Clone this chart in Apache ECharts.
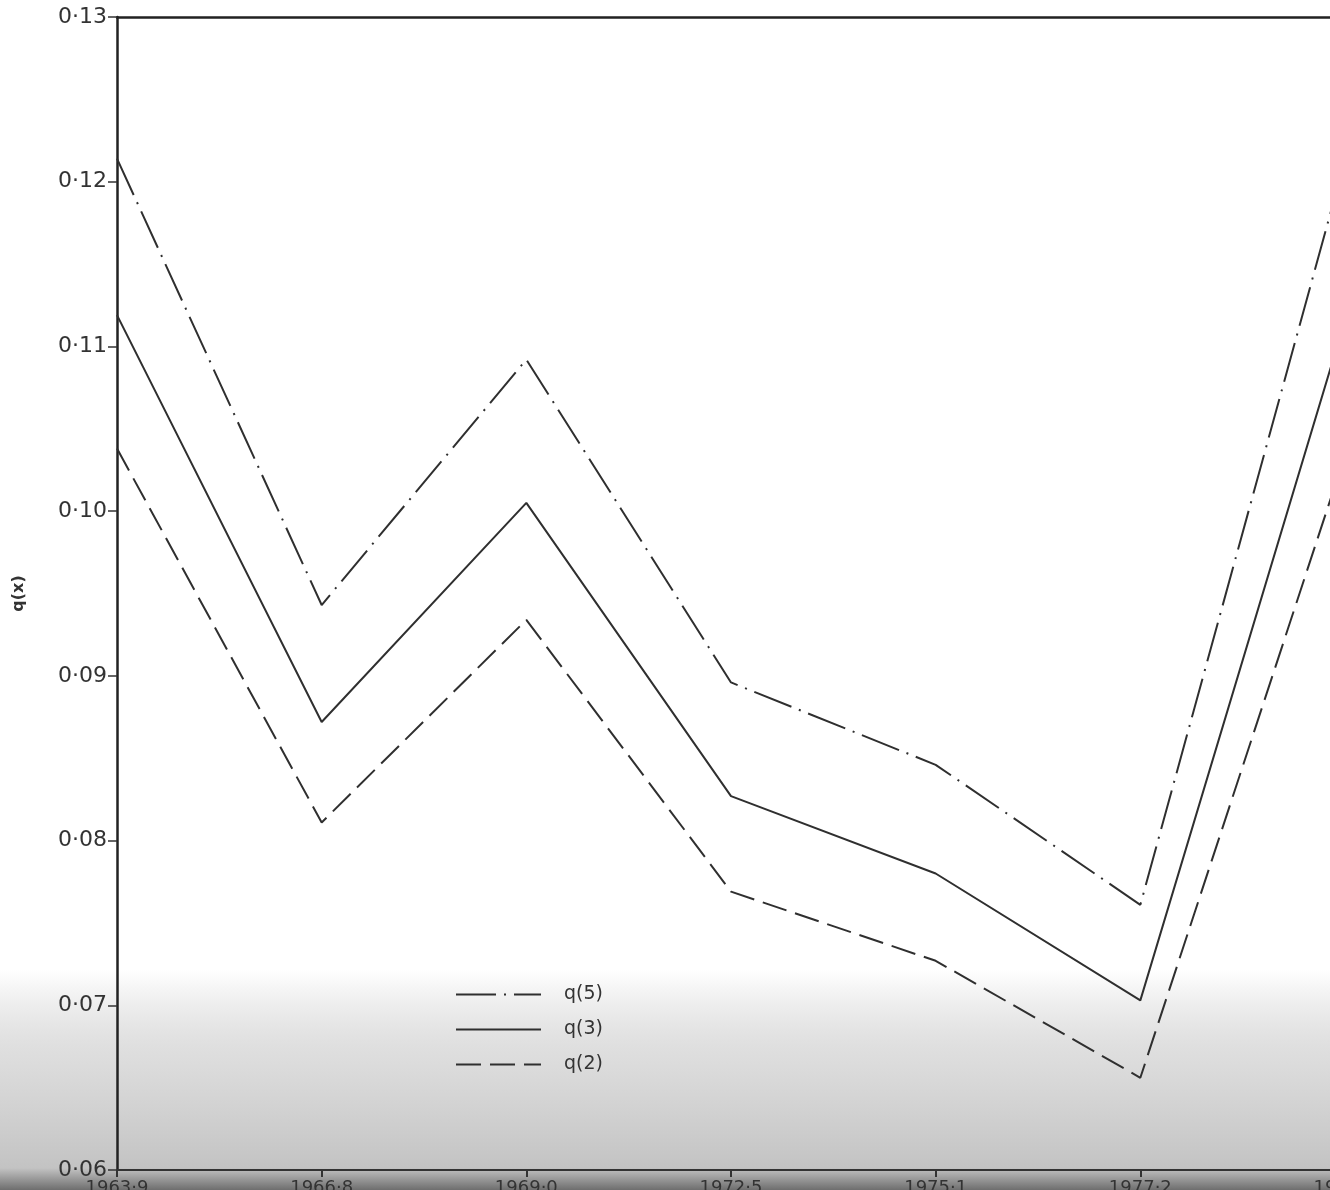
<!DOCTYPE html>
<html>
<head>
<meta charset="utf-8">
<title>q(x)</title>
<script src="https://cdn.jsdelivr.net/npm/echarts@6/dist/echarts.min.js"></script>
<style>
  html, body { margin: 0; padding: 0; background: #fff; }
  #main { width: 1330px; height: 1190px; }
</style>
</head>
<body>
<div id="main"></div>
<script>
// 横轴：调查年份
let years = ['1963·9', '1966·8', '1969·0', '1972·5', '1975·1', '1977·2', '1979·4'];
// 纵轴刻度
let yTicks = ['0·06', '0·07', '0·08', '0·09', '0·10', '0·11', '0·12', '0·13'];
// 三条曲线的数值
let q5 = [0.1214, 0.0943, 0.1092, 0.0896, 0.0846, 0.0761, 0.1213];
let q3 = [0.1119, 0.0872, 0.1005, 0.0827, 0.0780, 0.0703, 0.1116];
let q2 = [0.1038, 0.0811, 0.0934, 0.0769, 0.0727, 0.0656, 0.1034];

let myChart = echarts.init(document.getElementById('main'));

let lineColor = '#2f2f2f';
let labelFont = 'DejaVu Sans';

let option = {
    backgroundColor: '#fff',
    animation: false,
    grid: {
        left: 117,
        right: -15,
        top: 17,
        bottom: 20,
        outerBoundsMode: 'none',
        containLabel: false
    },
    legend: {
        orient: 'vertical',
        left: 450,
        top: 980,
        itemWidth: 85,
        itemHeight: 14,
        itemGap: 16,
        itemStyle: { opacity: 0 },
        textStyle: {
            color: '#333',
            fontSize: 19,
            fontFamily: labelFont,
            padding: [0, 0, 0, 18]
        },
        data: ['q(5)', 'q(3)', 'q(2)']
    },
    // 扫描件底部的灰色阴影
    graphic: [{
        type: 'rect',
        z: -10,
        left: 0,
        top: 970,
        shape: { width: 1330, height: 220 },
        style: {
            fill: new echarts.graphic.LinearGradient(0, 0, 0, 1, [
                { offset: 0, color: 'rgba(200,200,200,0)' },
                { offset: 0.35, color: 'rgba(215,215,215,0.8)' },
                { offset: 0.9, color: 'rgba(195,195,195,1)' },
                { offset: 1, color: 'rgba(110,110,110,1)' }
            ])
        }
    }],
    xAxis: [{
        type: 'category',
        boundaryGap: false,
        data: years,
        axisLine: { lineStyle: { color: '#333', width: 2 } },
        axisTick: { length: 7, lineStyle: { color: '#333', width: 2 } },
        axisLabel: {
            color: '#333',
            fontSize: 18,
            fontFamily: labelFont,
            margin: 9
        },
        splitLine: { show: false }
    }, {
        type: 'category',
        position: 'top',
        boundaryGap: false,
        data: years,
        axisLine: { lineStyle: { color: '#222', width: 2.5 } },
        axisTick: { show: false },
        axisLabel: { show: false }
    }],
    yAxis: {
        type: 'value',
        min: 0.06,
        max: 0.13,
        interval: 0.01,
        name: 'q(x)',
        nameLocation: 'middle',
        nameGap: 90,
        nameTextStyle: {
            color: '#333',
            fontSize: 16,
            fontWeight: 'bold',
            fontFamily: labelFont
        },
        axisLine: { show: true, lineStyle: { color: '#222', width: 2.5 } },
        axisTick: { show: true, length: 9, lineStyle: { color: '#333', width: 1.5 } },
        axisLabel: {
            color: '#333',
            fontSize: 22,
            fontFamily: labelFont,
            margin: 10,
            formatter: function (v) {
                return yTicks[Math.round((v - 0.06) * 100)];
            }
        },
        splitLine: { show: false }
    },
    series: [
        {
            name: 'q(5)',
            type: 'line',
            data: q5,
            symbol: 'none',
            lineStyle: { color: lineColor, width: 2, type: [40, 8, 2, 8] },
            itemStyle: { color: lineColor }
        },
        {
            name: 'q(3)',
            type: 'line',
            data: q3,
            symbol: 'none',
            lineStyle: { color: lineColor, width: 2, type: 'solid' },
            itemStyle: { color: lineColor }
        },
        {
            name: 'q(2)',
            type: 'line',
            data: q2,
            symbol: 'none',
            lineStyle: { color: lineColor, width: 2, type: [25, 9] },
            itemStyle: { color: lineColor }
        }
    ]
};

myChart.setOption(option);
</script>
</body>
</html>
